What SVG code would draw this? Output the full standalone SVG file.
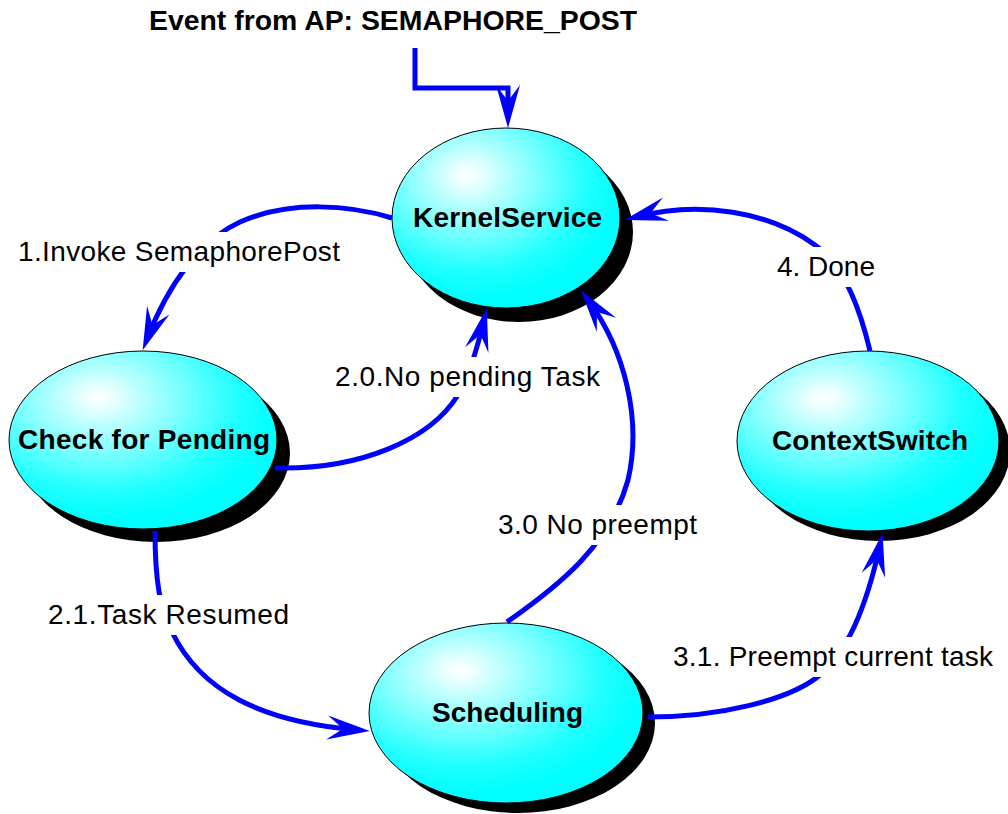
<svg xmlns="http://www.w3.org/2000/svg" width="1008" height="814" viewBox="0 0 1008 814">
<style>
.shadow{fill:#000}
.body{fill:url(#g);stroke:#000;stroke-width:1}
.nlabel{font-family:"Liberation Sans",Arial,sans-serif;font-weight:bold;font-size:28px;fill:#000}
.title{font-family:"Liberation Sans",Arial,sans-serif;font-weight:bold;font-size:27px;fill:#000}
.conn{fill:none;stroke:#0000ff;stroke-width:5;stroke-linejoin:miter;marker-end:url(#ah)}
.lbg{fill:#fff}
.ltext{font-family:"Liberation Sans",Arial,sans-serif;font-size:28px;fill:#000}
</style>
<defs>
<radialGradient id="g" cx="0.36" cy="0.3" r="0.72" fx="0.33" fy="0.26">
<stop offset="0" stop-color="#ffffff"/>
<stop offset="0.06" stop-color="#f0ffff"/>
<stop offset="0.2" stop-color="#c0ffff"/>
<stop offset="0.45" stop-color="#70ffff"/>
<stop offset="0.7" stop-color="#20ffff"/>
<stop offset="0.9" stop-color="#00ffff"/>
</radialGradient>
<marker id="ah" markerUnits="userSpaceOnUse" markerWidth="60" markerHeight="40" viewBox="-35 -20 60 40" refX="0" refY="0" orient="auto" overflow="visible">
<path d="M12,0 L-31,-12 L-15,0 L-31,12 Z" fill="#0000ff"/>
</marker>
</defs>
<rect width="1008" height="814" fill="#fff"/>
<text class="title" x="149" y="30" textLength="488" lengthAdjust="spacingAndGlyphs">Event from AP: SEMAPHORE_POST</text>

<g id="node-kernel">
<ellipse class="shadow" cx="519" cy="232" rx="114" ry="90"/>
<ellipse class="body" cx="506" cy="218" rx="114" ry="90"/>
<text class="nlabel" x="413" y="227" textLength="189">KernelService</text>
</g>
<g id="node-check">
<ellipse class="shadow" cx="156" cy="453" rx="134" ry="89"/>
<ellipse class="body" cx="143" cy="440" rx="134" ry="89"/>
<text class="nlabel" x="18" y="449" textLength="252">Check for Pending</text>
</g>
<g id="node-context">
<ellipse class="shadow" cx="879" cy="451" rx="131" ry="90"/>
<ellipse class="body" cx="868" cy="441" rx="131" ry="90"/>
<text class="nlabel" x="772" y="450" textLength="196">ContextSwitch</text>
</g>
<g id="node-sched">
<ellipse class="shadow" cx="518" cy="723" rx="137" ry="90"/>
<ellipse class="body" cx="506" cy="713" rx="137" ry="90"/>
<text class="nlabel" x="432" y="722" textLength="151">Scheduling</text>
</g>

<g id="connectors">
<path class="conn" d="M415,48 V88 H508 V116"/>
<path class="conn" d="M392,218 C350,205 290,200 240,222 C200,240 168,285 147,339"/>
<path class="conn" d="M275,468 C360,470 430,440 458,395 C470,375 478,345 484,320"/>
<path class="conn" d="M507,622 C560,585 610,545 628,480 C642,420 625,350 588,300"/>
<path class="conn" d="M648,717 C720,717 790,700 820,675 C850,650 868,600 880,545"/>
<path class="conn" d="M870,351 C858,300 840,262 815,245 C770,212 700,200 636,217"/>
<path class="conn" d="M155,531 C155,580 160,610 172,632 C200,690 260,722 358,730"/>
</g>

<g id="connector-labels">
<rect class="lbg" x="14" y="232" width="330" height="40"/>
<text class="ltext" x="18" y="261" textLength="322">1.Invoke SemaphorePost</text>
<rect class="lbg" x="331" y="357" width="273" height="40"/>
<text class="ltext" x="335" y="386" textLength="265">2.0.No pending Task</text>
<rect class="lbg" x="494" y="505" width="207" height="40"/>
<text class="ltext" x="498" y="534" textLength="199">3.0 No preempt</text>
<rect class="lbg" x="773" y="247" width="106" height="40"/>
<text class="ltext" x="777" y="276" textLength="98">4. Done</text>
<rect class="lbg" x="669" y="637" width="328" height="40"/>
<text class="ltext" x="673" y="666" textLength="320">3.1. Preempt current task</text>
<rect class="lbg" x="44" y="595" width="249" height="40"/>
<text class="ltext" x="48" y="624" textLength="241">2.1.Task Resumed</text>
</g>
</svg>
